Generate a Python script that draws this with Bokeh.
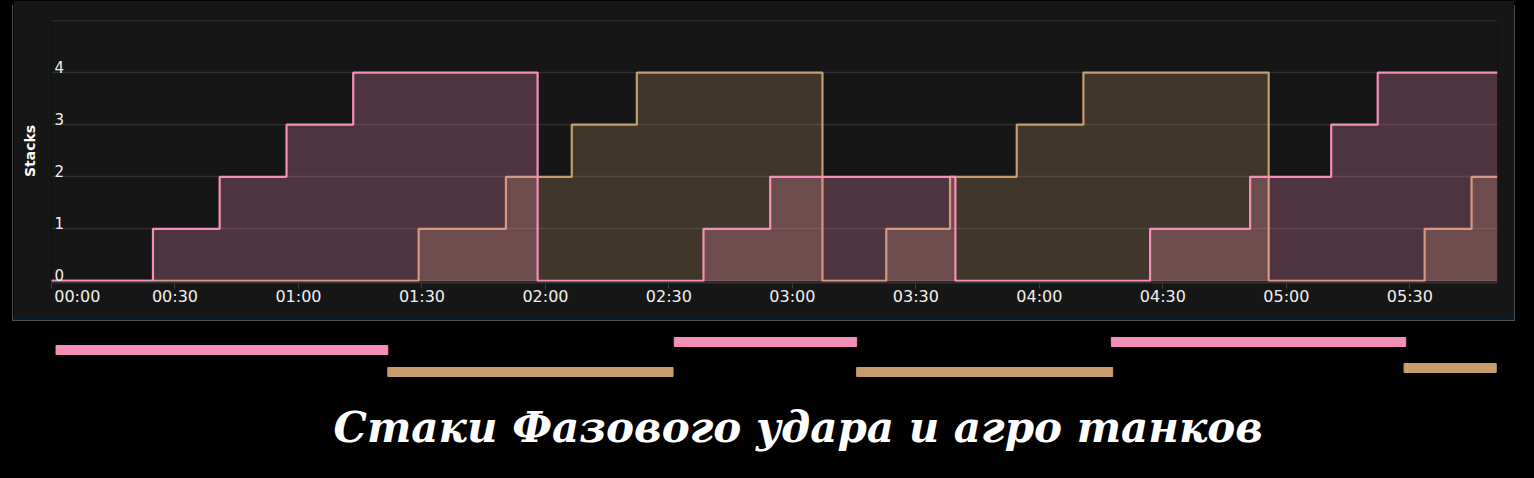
from bokeh.plotting import figure
from bokeh.models import Range1d, FixedTicker, Title
from bokeh.layouts import column, row
from bokeh.models import Spacer
from bokeh.core.properties import value
from bokeh.embed import file_html
from bokeh.resources import INLINE

# ---------------- data (time in minutes) ----------------
phase_time = [0, 24.65, 40.85, 57.1, 73.3, 118.1, 158.4, 174.6, 219.6, 266.9, 291.2, 310.9, 322.2, 351.3]
phase_stacks = [0, 1, 2, 3, 4, 0, 1, 2, 0, 1, 2, 3, 4, 4]

aggro_time = [0, 89.2, 110.4, 126.4, 142.2, 187.3, 202.8, 218.3, 234.5, 250.7, 295.7, 333.6, 345.0, 351.3]
aggro_stacks = [0, 1, 2, 3, 4, 0, 1, 2, 3, 4, 0, 1, 2, 2]

x_ticks = [0, 30, 60, 90, 120, 150, 180, 210, 240, 270, 300, 330]
x_tick_labels = ["00:00", "00:30", "01:00", "01:30", "02:00", "02:30",
                 "03:00", "03:30", "04:00", "04:30", "05:00", "05:30"]
y_ticks = [0, 1, 2, 3, 4]
y_tick_labels = ["0", "1", "2", "3", "4"]

pink_start = [1.1, 151.3, 257.5]
pink_end = [81.7, 195.6, 329.0]
pink_row = [29.5, 21.5, 21.5]
tan_start = [81.7, 195.6, 328.6]
tan_end = [151.0, 257.8, 351.0]
tan_row = [51.5, 51.5, 47.5]

title_text = "Стаки Фазового удара и агро танков"

PINK = "#f48fba"
TAN = "#c89d6e"
PANEL = "#161616"
TXT = "#f0f0f0"

# ---------------- main chart ----------------
p1 = figure(width=1501, height=316, x_range=Range1d(0, phase_time[-1]),
            y_range=Range1d(-0.03, 5.02), output_backend="svg", toolbar_location=None,
            min_border_left=38, min_border_right=17, min_border_top=19, min_border_bottom=34,
            background_fill_color=PANEL, border_fill_color=PANEL, outline_line_color=None)
p1.styles = {"box-shadow": "0 4px 0 0 #0c1b23, -1px 5px 0 0 #4d4d4d, 1px 5px 0 0 #4d4d4d"}

p1.xgrid.visible = False
p1.ygrid.ticker = FixedTicker(ticks=y_ticks + [5])
p1.ygrid.grid_line_color = "#2e2e2e"
p1.ygrid.grid_line_width = 1.5

p1.varea_step(x=aggro_time, y1=0, y2=aggro_stacks, step_mode="after",
              fill_color=TAN, fill_alpha=0.24)
p1.step(aggro_time, aggro_stacks, mode="after", line_color=TAN, line_width=2.2)
p1.varea_step(x=phase_time, y1=0, y2=phase_stacks, step_mode="after",
              fill_color=PINK, fill_alpha=0.25)
p1.step(phase_time, phase_stacks, mode="after", line_color=PINK, line_width=2.2)

# y tick labels sit inside the plot, just above their grid lines
p1.text(x=[p1.x_range.start] * len(y_ticks), y=y_ticks, text=y_tick_labels,
        x_offset=3, text_align="left", text_baseline="bottom",
        text_color=TXT, text_font=value("DejaVu Sans"), text_font_size="15px")

xa = p1.xaxis[0]
xa.ticker = FixedTicker(ticks=x_ticks)
overrides = {t: l for t, l in zip(x_ticks, x_tick_labels)}
# first label is drawn left-justified at its tick (padding in front of it)
overrides[x_ticks[0]] = "\u2007\u2007\u2007\u00a0\u00a0" + x_tick_labels[0]
xa.major_label_overrides = overrides
xa.axis_line_color = "#333333"
xa.axis_line_width = 2
xa.major_tick_line_color = "#3c3c3c"
xa.major_tick_out = 6
xa.major_tick_in = 0
xa.minor_tick_line_color = None
xa.major_label_standoff = -2
xa.major_label_text_color = TXT
xa.major_label_text_font = "DejaVu Sans"
xa.major_label_text_font_size = "16px"

ya = p1.yaxis[0]
ya.ticker = FixedTicker(ticks=y_ticks)
ya.major_label_overrides = {t: "" for t in y_ticks}
ya.axis_line_color = None
ya.major_tick_line_color = None
ya.minor_tick_line_color = None
ya.major_tick_in = 0
ya.major_tick_out = 0
ya.major_label_standoff = 0
ya.axis_label = "Stacks"
ya.axis_label_text_color = "#ffffff"
ya.axis_label_text_font = "DejaVu Sans"
ya.axis_label_text_font_style = "bold"
ya.axis_label_text_font_size = "14px"
ya.axis_label_standoff = 14

# ---------------- phase bars + title ----------------
p2 = figure(width=1530, height=161, x_range=p1.x_range, y_range=Range1d(80, 0),
            output_backend="svg", toolbar_location=None,
            min_border_left=51, min_border_right=33, min_border_top=4, min_border_bottom=77,
            background_fill_color=None, border_fill_color=None, outline_line_color=None)
p2.axis.visible = False
p2.grid.visible = False
p2.hbar(y=pink_row, left=pink_start, right=pink_end, height=9, color=PINK)
p2.hbar(y=tan_row, left=tan_start, right=tan_end, height=9, color=TAN)

p2.add_layout(Title(text=title_text, align="left", offset=282, text_color="#ffffff",
                    text_font="DejaVu Serif", text_font_style="bold italic",
                    text_font_size="42px", standoff=0), "below")

layout = column(row(Spacer(width=13, height=316), p1), p2)

html = file_html(layout, INLINE)
html = html.replace("<head>", "<head><style>html, body { background: #000000; }</style>", 1)
open("out.html", "w").write(html)
